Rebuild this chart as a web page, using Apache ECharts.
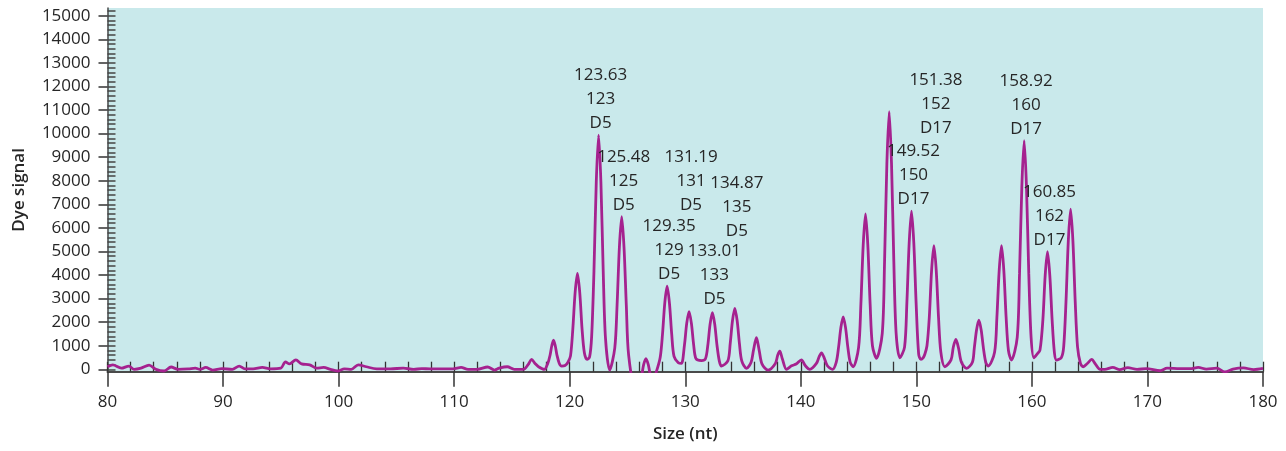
<!DOCTYPE html>
<html>
<head>
<meta charset="utf-8">
<script src="https://cdn.jsdelivr.net/npm/echarts@6/dist/echarts.min.js"></script>
<style>
  html, body { margin: 0; padding: 0; background: #ffffff; }
  #chart { width: 1286px; height: 451px; }
</style>
</head>
<body>
<div id="chart"></div>
<script>
// ---------------- DATA ----------------
// Axis ticks
const xTicks = [80, 90, 100, 110, 120, 130, 140, 150, 160, 170, 180];
const yTicks = [0, 1000, 2000, 3000, 4000, 5000, 6000, 7000, 8000, 9000, 10000, 11000, 12000, 13000, 14000, 15000];

// Trace: [size (nt), dye signal]
const baselineLeft = [
  [80.0,110],[80.46,190],[81.2,50],[81.85,140],[82.3,0],[82.9,50],[83.6,180],[84.2,0],[84.9,-70],
  [85.5,100],[86.1,0],[87.0,20],[87.6,50],[88.0,0],[88.5,80],[89.1,-30],[89.9,30],[90.8,0],
  [91.4,140],[91.9,20],[92.6,20],[93.4,80],[94.1,20],[95.0,50],[95.4,320],[95.75,230],[96.3,400],
  [96.8,230],[97.5,190],[98.1,50],[98.7,80],[99.3,0],[99.9,-70],[100.5,20],[101.1,0],[101.7,190],
  [102.4,110],[103.3,20],[104.5,20],[105.6,50],[106.5,0],[107.2,30],[107.9,20],[109.1,20],
  [109.9,20],[110.6,80],[111.2,0],[112.0,0],[112.9,100],[113.5,-30],[113.9,50],[114.6,110],
  [115.2,0],[116.0,0],[116.4,200],[116.7,420],[117.0,250],[117.3,110],[117.8,0]
];
const ladderD5 = [
  [118.1,250],[118.3,600],[118.45,1000],[118.6,1240],[118.75,1000],[118.9,600],[119.1,250],
  [119.3,140],[119.6,160],[119.85,300],[120.07,570],[120.27,1710],[120.47,3260],[120.67,4070],
  [120.87,3260],[121.07,1710],[121.27,700],[121.5,420],[121.72,520],[121.9,1400],[122.1,4170],
  [122.3,7950],[122.5,9940],[122.7,7950],[122.9,4170],[123.1,1300],[123.46,-30],[123.9,900],
  [124.1,2720],[124.3,5180],[124.5,6475],[124.7,5180],[124.9,2720],[125.1,600],[125.7,-900],
  [126.2,-300],[126.4,200],[126.6,450],[126.8,200],[127.0,-250],[127.25,-400],[127.5,-100],
  [127.83,500],[128.03,1480],[128.23,2820],[128.43,3530],[128.63,2820],[128.83,1480],[129.03,550],
  [129.4,280],[129.67,250],[129.93,1030],[130.13,1960],[130.33,2450],[130.53,1960],[130.73,1030],
  [130.93,450],[131.4,370],[131.75,450],[131.95,1010],[132.15,1920],[132.35,2400],[132.55,1920],
  [132.75,1010],[132.95,350],[133.13,140],[133.69,360],[133.89,1090],[134.09,2070],[134.29,2590],
  [134.49,2070],[134.69,1090],[134.89,360],[135.3,40],[135.7,300],[135.9,800],[136.16,1340],
  [136.4,800],[136.65,220],[137.17,-30],[137.8,250],[138.0,600],[138.18,775],[138.4,450],[138.76,0]
];
const gapMid = [
  [139.2,150],[139.6,225],[140.05,400],[140.4,150],[140.78,0],[141.35,250],[141.6,550],
  [141.79,700],[142.0,520],[142.3,150],[142.74,0]
];
const ladderD17 = [
  [143.07,310],[143.27,940],[143.47,1780],[143.67,2230],[143.87,1780],[144.07,940],[144.27,310],
  [144.53,110],[145.0,920],[145.2,2770],[145.4,5270],[145.6,6590],[145.8,5270],[146.0,2770],
  [146.2,1000],[146.55,470],[147.05,1530],[147.25,4590],[147.45,8740],[147.65,10930],[147.85,8740],
  [148.05,4590],[148.25,1530],[148.57,490],[148.98,940],[149.18,2820],[149.38,5370],[149.58,6716],
  [149.78,5370],[149.98,2820],[150.2,650],[150.4,420],[150.6,500],[150.74,650],[150.92,1000],
  [151.12,2200],[151.32,4200],[151.52,5245],[151.72,4200],[151.92,2200],[152.12,730],[152.47,110],
  [153.0,400],[153.2,950],[153.42,1270],[153.65,900],[153.9,300],[154.35,40],[154.85,300],
  [155.01,880],[155.21,1670],[155.41,2090],[155.61,1670],[155.81,880],[156.01,300],[156.22,140],
  [156.77,730],[156.97,2200],[157.17,4200],[157.37,5245],[157.57,4200],[157.77,2200],[157.97,800],
  [158.23,395],[158.73,1360],[158.93,4070],[159.13,7760],[159.33,9700],[159.53,7760],[159.73,4070],
  [159.93,1360],[160.17,490],[160.45,650],[160.7,820],[160.95,2100],[161.15,3990],[161.35,4990],
  [161.55,3990],[161.75,2100],[161.95,700],[162.13,395],[162.55,500],[162.75,950],[162.95,2860],
  [163.15,5440],[163.35,6800],[163.55,5440],[163.75,2860],[163.95,950],[164.2,250],[164.44,110],
  [164.8,250],[165.17,420],[165.5,220],[165.9,0]
];
const baselineRight = [
  [166.3,0],[167.0,80],[167.6,-10],[168.3,70],[169.1,0],[169.9,30],[171.1,-60],[171.7,50],
  [172.8,30],[173.7,30],[174.4,80],[175.1,10],[176.0,50],[176.7,-110],[177.4,10],[178.3,60],
  [179.2,-10],[180.0,40]
];

// Called peaks
const callSizes = ['123.63','125.48','129.35','131.19','133.01','134.87','149.52','151.38','158.92','160.85'];
const alleles   = ['123','125','129','131','133','135','150','152','160','162'];
const markers   = ['D5','D5','D5','D5','D5','D5','D17','D17','D17','D17'];
const peakSizes = [122.5, 124.5, 128.43, 130.33, 132.35, 134.29, 149.58, 151.52, 159.33, 161.35];

// ---------------- LAYOUT ----------------
// height (in signal units) of the bottom of each stacked label
const labelBottoms = [9940, 6475, 3530, 6460, 2450, 5360, 6716, 9730, 9700, 4990];
const xMinorTicks = [];
for (let v = 80; v <= 180; v += 2) xMinorTicks.push(v);
const yMinorTicks = [];
for (let v = 0; v <= 15200; v += 200) yMinorTicks.push(v);

const trace = baselineLeft.concat(ladderD5, gapMid, ladderD17, baselineRight);
const labelData = peakSizes.map((s, i) => ({
  value: [s, labelBottoms[i]],
  name: callSizes[i] + '\n' + alleles[i] + '\n' + markers[i]
}));

const FONT = '"Open Sans", "DejaVu Sans", sans-serif';
const TXT = '#262626';
const chart = echarts.init(document.getElementById('chart'), null, { renderer: 'canvas' });
chart.setOption({
  animation: false,
  backgroundColor: '#ffffff',
  textStyle: { fontFamily: FONT },
  grid: {
    left: 107.5, right: 23, top: 8, bottom: 79.3,
    show: true, backgroundColor: '#c9e9eb', borderWidth: 0,
    containLabel: false, outerBoundsMode: 'none'
  },
  xAxis: [
    {
      type: 'value', min: 80, max: 180, interval: 10, position: 'bottom',
      name: 'Size (nt)', nameLocation: 'middle', nameGap: 54, nameMoveOverlap: false,
      nameTextStyle: { fontSize: 17, color: TXT, fontFamily: FONT, fontWeight: 600 },
      axisLine: { show: true, onZero: false, lineStyle: { color: '#4a4a4a', width: 2 } },
      axisTick: { show: true, inside: false, length: 15, customValues: xTicks, lineStyle: { color: '#333', width: 1.5 } },
      axisLabel: { show: true, margin: 22, fontSize: 17, color: TXT, fontFamily: FONT, customValues: xTicks,
                   formatter: v => String(v) },
      splitLine: { show: false }
    },
    {
      type: 'value', min: 80, max: 180, position: 'bottom', offset: 0,
      axisLine: { show: false, onZero: false },
      axisTick: { show: true, inside: true, length: 10, customValues: xMinorTicks, lineStyle: { color: '#333', width: 1.3 } },
      axisLabel: { show: false },
      splitLine: { show: false }
    }
  ],
  yAxis: [
    {
      type: 'value', min: -100, max: 15330, position: 'left',
      name: 'Dye signal', nameLocation: 'middle', nameGap: 80, nameMoveOverlap: false,
      nameTextStyle: { fontSize: 17, color: TXT, fontFamily: FONT, fontWeight: 600 },
      axisLine: { show: true, onZero: false, lineStyle: { color: '#4a4a4a', width: 1.5 } },
      axisTick: { show: true, inside: false, length: 9, customValues: yTicks, lineStyle: { color: '#333', width: 1.5 } },
      axisLabel: { show: true, margin: 17, fontSize: 17, color: TXT, fontFamily: FONT, customValues: yTicks,
                   formatter: v => String(v) },
      splitLine: { show: false }
    },
    {
      type: 'value', min: -100, max: 15330, position: 'left', offset: 0,
      axisLine: { show: false, onZero: false },
      axisTick: { show: true, inside: true, length: 8, customValues: yMinorTicks, lineStyle: { color: '#444', width: 1.5 } },
      axisLabel: { show: false },
      splitLine: { show: false }
    }
  ],
  series: [
    {
      type: 'line', xAxisIndex: 0, yAxisIndex: 0,
      data: trace, showSymbol: false, smooth: 0.3, clip: true,
      lineStyle: { color: '#a5228f', width: 2.8 },
      itemStyle: { color: '#a5228f' },
      silent: true, z: 3
    },
    {
      type: 'scatter', xAxisIndex: 0, yAxisIndex: 0,
      data: labelData, symbolSize: 0, silent: true, z: 4, clip: false,
      itemStyle: { opacity: 1, color: 'transparent' },
      label: {
        show: true, position: 'top', distance: 0, offset: [2, 0],
        formatter: p => p.name, opacity: 1,
        fontSize: 17, lineHeight: 24, color: TXT, fontFamily: FONT, align: 'center'
      }
    }
  ]
});
</script>
</body>
</html>
